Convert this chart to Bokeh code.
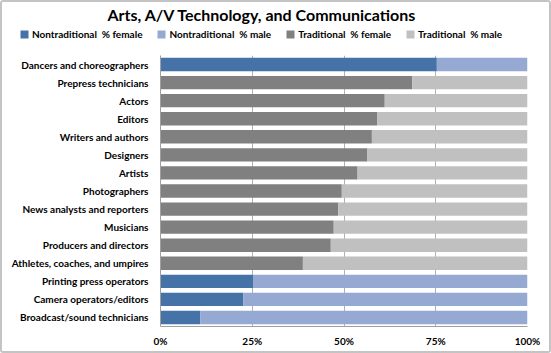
from bokeh.plotting import figure
from bokeh.layouts import column
from bokeh.models import FactorRange, FixedTicker, CustomJSTickFormatter, Legend, LegendItem
from bokeh.embed import file_html
from bokeh.resources import INLINE

# ---- data (top to bottom) ----
occupations = [
    "Dancers and choreographers", "Prepress technicians", "Actors", "Editors",
    "Writers and authors", "Designers", "Artists", "Photographers",
    "News analysts and reporters", "Musicians", "Producers and directors",
    "Athletes, coaches, and umpires", "Printing press operators",
    "Camera operators/editors", "Broadcast/sound technicians",
]
pct_female = [75.3, 68.6, 61.1, 59.0, 57.6, 56.4, 53.7, 49.4, 48.4, 47.2, 46.4, 38.8, 25.2, 22.6, 10.8]
nontraditional = [True, False, False, False, False, False, False, False, False, False, False, False, True, True, True]
series_names = ["Nontraditional  % female", "Nontraditional  % male", "Traditional  % female", "Traditional  % male"]
series_colors = ["#4572A7", "#95A9D2", "#808080", "#C0C0C0"]
x_ticks = [0, 25, 50, 75, 100]
title_text = "Arts, A/V Technology, and Communications"

FONT = "Lato"

nf = [f if n else 0 for f, n in zip(pct_female, nontraditional)]
nm = [100 - f if n else 0 for f, n in zip(pct_female, nontraditional)]
tf = [0 if n else f for f, n in zip(pct_female, nontraditional)]
tm = [0 if n else 100 - f for f, n in zip(pct_female, nontraditional)]
keys = ["nf", "nm", "tf", "tm"]
source = dict(y=occupations, nf=nf, nm=nm, tf=tf, tm=tm)

W = 547
H_HEAD = 44
H_MAIN = 305

# ---- header: title + legend (its own frame spans the full width) ----
head = figure(width=W, height=H_HEAD, output_backend="svg", toolbar_location=None,
              x_range=(-2, -1), y_range=FactorRange(factors=occupations[::-1]), title=title_text,
              min_border_left=0, min_border_right=0, min_border_top=0, min_border_bottom=0)
head.frame_align = False
head.axis.visible = False
head.grid.visible = False
head.outline_line_color = None
head.border_fill_color = "white"
head.title.align = "left"
head.title.offset = 105
head.title.text_font = FONT
head.title.text_font_style = "bold"
head.title.text_font_size = "16px"
head.title.text_color = "black"
head.title.standoff = 0

# same series drawn in the header only to feed the legend (outside its visible x range)
head_rs = head.hbar_stack(keys, y="y", height=0.74, color=series_colors, source=source, line_color=None)
legend = Legend(items=[LegendItem(label=n, renderers=[r]) for n, r in zip(series_names, head_rs)],
                orientation="horizontal", location=(17, 6),
                glyph_width=10, glyph_height=10, label_standoff=3, spacing=14,
                padding=0, margin=0, border_line_color=None, background_fill_alpha=0,
                label_text_font=FONT, label_text_font_style="bold", label_text_font_size="10px",
                label_height=12, label_text_color="black")
head.add_layout(legend)

# ---- main chart ----
p = figure(width=W, height=H_MAIN, output_backend="svg", toolbar_location=None,
           y_range=FactorRange(factors=occupations[::-1]), x_range=(0, 100),
           min_border_left=158, min_border_right=22, min_border_top=9, min_border_bottom=25)
p.frame_align = False
p.outline_line_color = None
p.background_fill_color = "white"
p.border_fill_color = "white"

p.hbar_stack(keys, y="y", height=0.74, color=series_colors, source=source, line_color=None)

p.ygrid.grid_line_color = None
p.xgrid.grid_line_color = "#B0B0B0"
p.xgrid.grid_line_width = 1
p.xgrid.ticker = FixedTicker(ticks=x_ticks)
p.xaxis.ticker = FixedTicker(ticks=x_ticks)
p.xaxis.formatter = CustomJSTickFormatter(code="return tick + '%';")
for ax in (p.xaxis[0], p.yaxis[0]):
    ax.axis_line_color = "#A0A0A0"
    ax.major_tick_line_color = None
    ax.minor_tick_line_color = None
    ax.major_label_text_font = FONT
    ax.major_label_text_font_style = "bold"
    ax.major_label_text_font_size = "10px"
    ax.major_label_text_color = "black"
p.xaxis.major_label_standoff = 2
p.yaxis.major_label_standoff = 6

layout = column(head, p, spacing=0)
layout.styles = {"border": "2px solid #c4c4c4", "border-radius": "3px"}

open("out.html", "w").write(file_html(layout, INLINE))
